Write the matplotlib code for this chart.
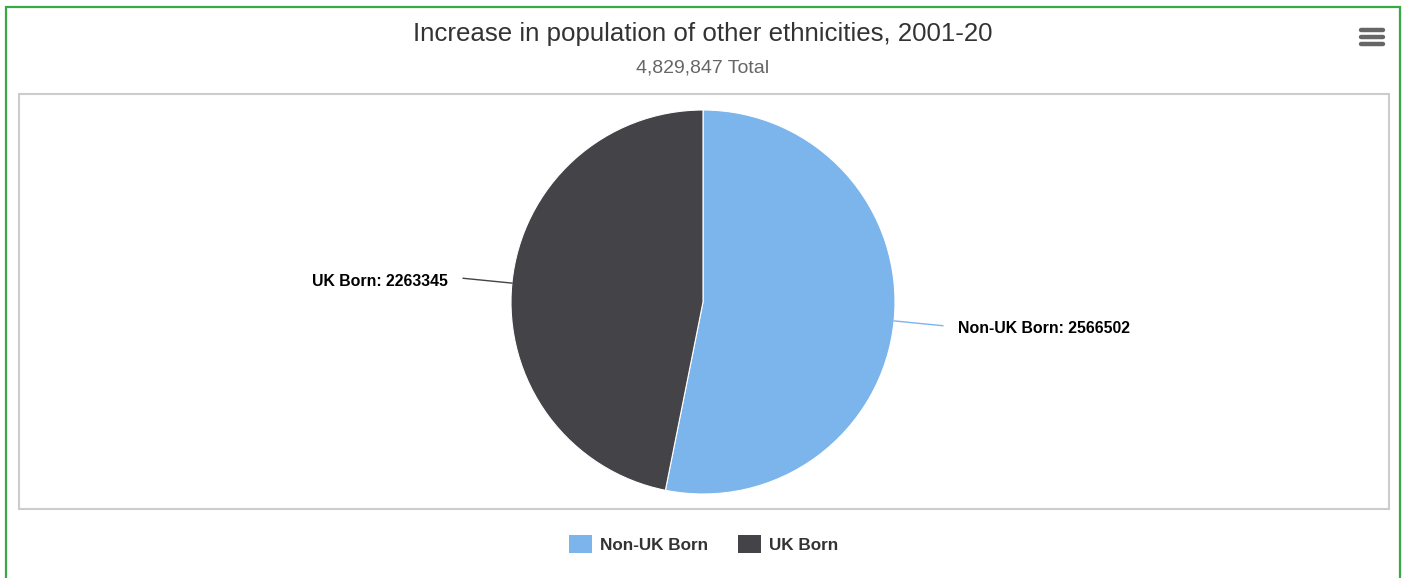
import numpy as np
import matplotlib
matplotlib.use("Agg")
import matplotlib.pyplot as plt
from matplotlib.patches import Rectangle

plt.rcParams["font.family"] = ["Liberation Sans", "DejaVu Sans"]

# data
categories = ["Non-UK Born", "UK Born"]
values = [2566502, 2263345]
colors = ["#7cb5ec", "#434348"]
title = "Increase in population of other ethnicities, 2001-20"

W, H = 1405, 578
fig = plt.figure(figsize=(W / 100, H / 100), dpi=100)
ax = fig.add_axes([0, 0, 1, 1])
ax.set_xlim(0, W)
ax.set_ylim(0, H)
ax.set_aspect("equal")
ax.axis("off")


def y(py):
    # page pixels are measured from the top
    return H - py


# outer green frame (open at the bottom) and grey plot box
ax.plot([5.5, 5.5, 1400, 1400], [0, y(7), y(7), 0], color="#3aa845", lw=1.6,
        solid_joinstyle="miter")
ax.add_patch(Rectangle((19, y(509)), 1370, 415, fill=False, ec="#cccccc", lw=1.5))

# hamburger menu
for py in (30, 37, 44):
    ax.plot([1361, 1383], [y(py), y(py)], color="#666666", lw=3.2,
            solid_capstyle="round")

ax.text(703, y(34), title, ha="center", va="center", fontsize=18.6, color="#333333")
total = sum(values)
ax.text(703, y(68), f"{total:,} Total", ha="center", va="center", fontsize=14,
        color="#666666")

# pie
cx, cy, r = 703, y(302), 192
wedges, _ = ax.pie(values, colors=colors, startangle=90, counterclock=False,
                   center=(cx, cy), radius=r,
                   wedgeprops=dict(edgecolor="white", linewidth=0.8))
ax.set_xlim(0, W)
ax.set_ylim(0, H)

for w, name, val, col in zip(wedges, categories, values, colors):
    mid = np.deg2rad((w.theta1 + w.theta2) / 2)
    dx, dy = np.cos(mid), np.sin(mid)
    x0, y0 = cx + r * dx, cy + r * dy
    x1, y1 = cx + (r + 49) * dx, cy + (r + 49) * dy
    ax.plot([x0, x1], [y0, y1], color=col, lw=1)
    side = 1 if dx > 0 else -1
    ax.text(x1 + side * 15, y1 - 3, f"{name}: {val}", ha="left" if side > 0 else "right",
            va="center", fontsize=11.4, fontweight="bold", color="#000000")

# legend
lx = [569, 738]
for x0, name, col in zip(lx, categories, colors):
    ax.add_patch(Rectangle((x0, y(553)), 23, 18, color=col, lw=0))
    ax.text(x0 + 31, y(545), name, ha="left", va="center", fontsize=12.3,
            fontweight="bold", color="#333333")

fig.savefig("out.png", dpi=100, facecolor="white")
